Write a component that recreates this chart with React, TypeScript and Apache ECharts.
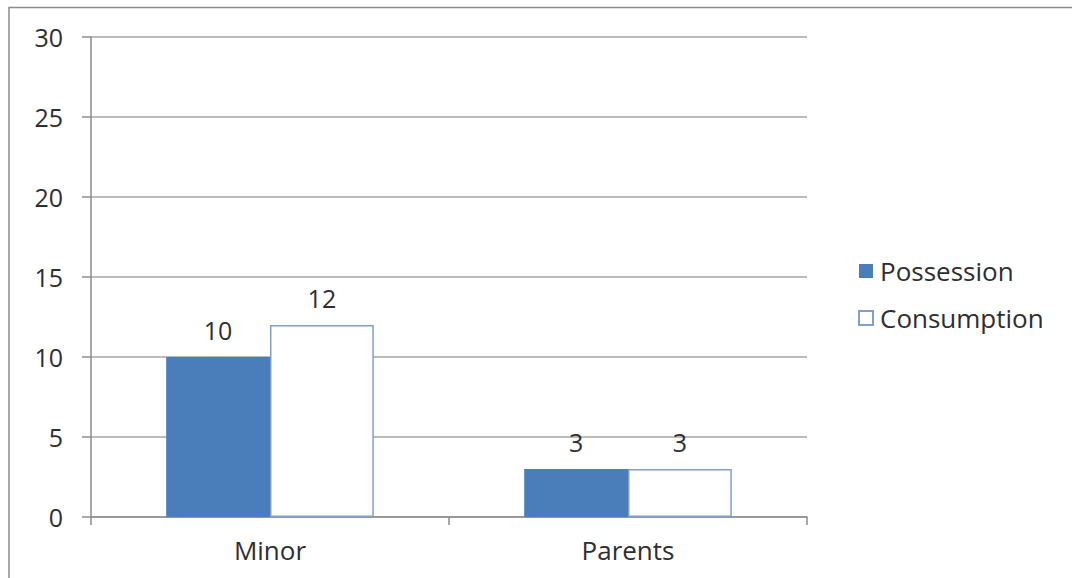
import React, { useEffect, useRef } from "react";
import * as echarts from "echarts";

const categories = ["Minor", "Parents"];
const possession = [10, 3];
const consumption = [12, 3];
const seriesNames = ["Possession", "Consumption"];

const FONT = "'Open Sans', 'Liberation Sans', sans-serif";
const TEXT = "#2e2e2e";

export default function App() {
  const ref = useRef<HTMLDivElement>(null);
  useEffect(() => {
    const chart = echarts.init(ref.current!, null, { renderer: "svg" });
    chart.setOption({
      animation: false,
      backgroundColor: "#ffffff",
      graphic: [
        {
          type: "polyline",
          shape: { points: [[9, 578], [9, 7.5], [1072, 7.5]] },
          style: { stroke: "#8c8c8c", lineWidth: 1.5, fill: null },
          silent: true,
        },
      ],
      grid: { left: 91, right: 265, top: 37, bottom: 61 },
      legend: {
        orient: "vertical",
        left: 853,
        top: 253,
        itemWidth: 14,
        itemHeight: 14,
        itemGap: 21,
        icon: "rect",
        textStyle: { fontFamily: FONT, fontSize: 26, lineHeight: 24, color: TEXT, padding: [0, 0, 0, 2] },
        data: seriesNames,
      },
      xAxis: {
        type: "category",
        data: categories,
        axisLine: { lineStyle: { color: "#8c8c8c", width: 1.5 } },
        axisTick: { show: true, length: 8, alignWithLabel: false, lineStyle: { color: "#8c8c8c", width: 1.5 } },
        axisLabel: { fontFamily: FONT, fontSize: 26, color: TEXT, margin: 20 },
      },
      yAxis: {
        type: "value",
        min: 0,
        max: 30,
        interval: 5,
        axisLine: { show: true, lineStyle: { color: "#8c8c8c", width: 1.5 } },
        axisTick: { show: true, length: 9, lineStyle: { color: "#8c8c8c", width: 1.5 } },
        axisLabel: { fontFamily: FONT, fontSize: 25, color: TEXT, margin: 28 },
        splitLine: { lineStyle: { color: "#a6a6a6", width: 1.5 } },
      },
      series: [
        {
          name: seriesNames[0],
          type: "bar",
          data: possession,
          barGap: "0%",
          barCategoryGap: "42%",
          itemStyle: { color: "#4a7ebb" },
          label: { show: true, position: "top", distance: 15, fontFamily: FONT, fontSize: 25, color: TEXT },
        },
        {
          name: seriesNames[1],
          type: "bar",
          data: consumption,
          barGap: "0%",
          barCategoryGap: "42%",
          itemStyle: { color: "#ffffff", borderColor: "#7f9fcf", borderWidth: 1.5 },
          label: { show: true, position: "top", distance: 15, fontFamily: FONT, fontSize: 25, color: TEXT },
        },
      ],
    });
    return () => chart.dispose();
  }, []);
  return (
    <div
      ref={ref}
      style={{ position: "fixed", left: 0, top: 0, width: 1072, height: 578, background: "#fff" }}
    />
  );
}
